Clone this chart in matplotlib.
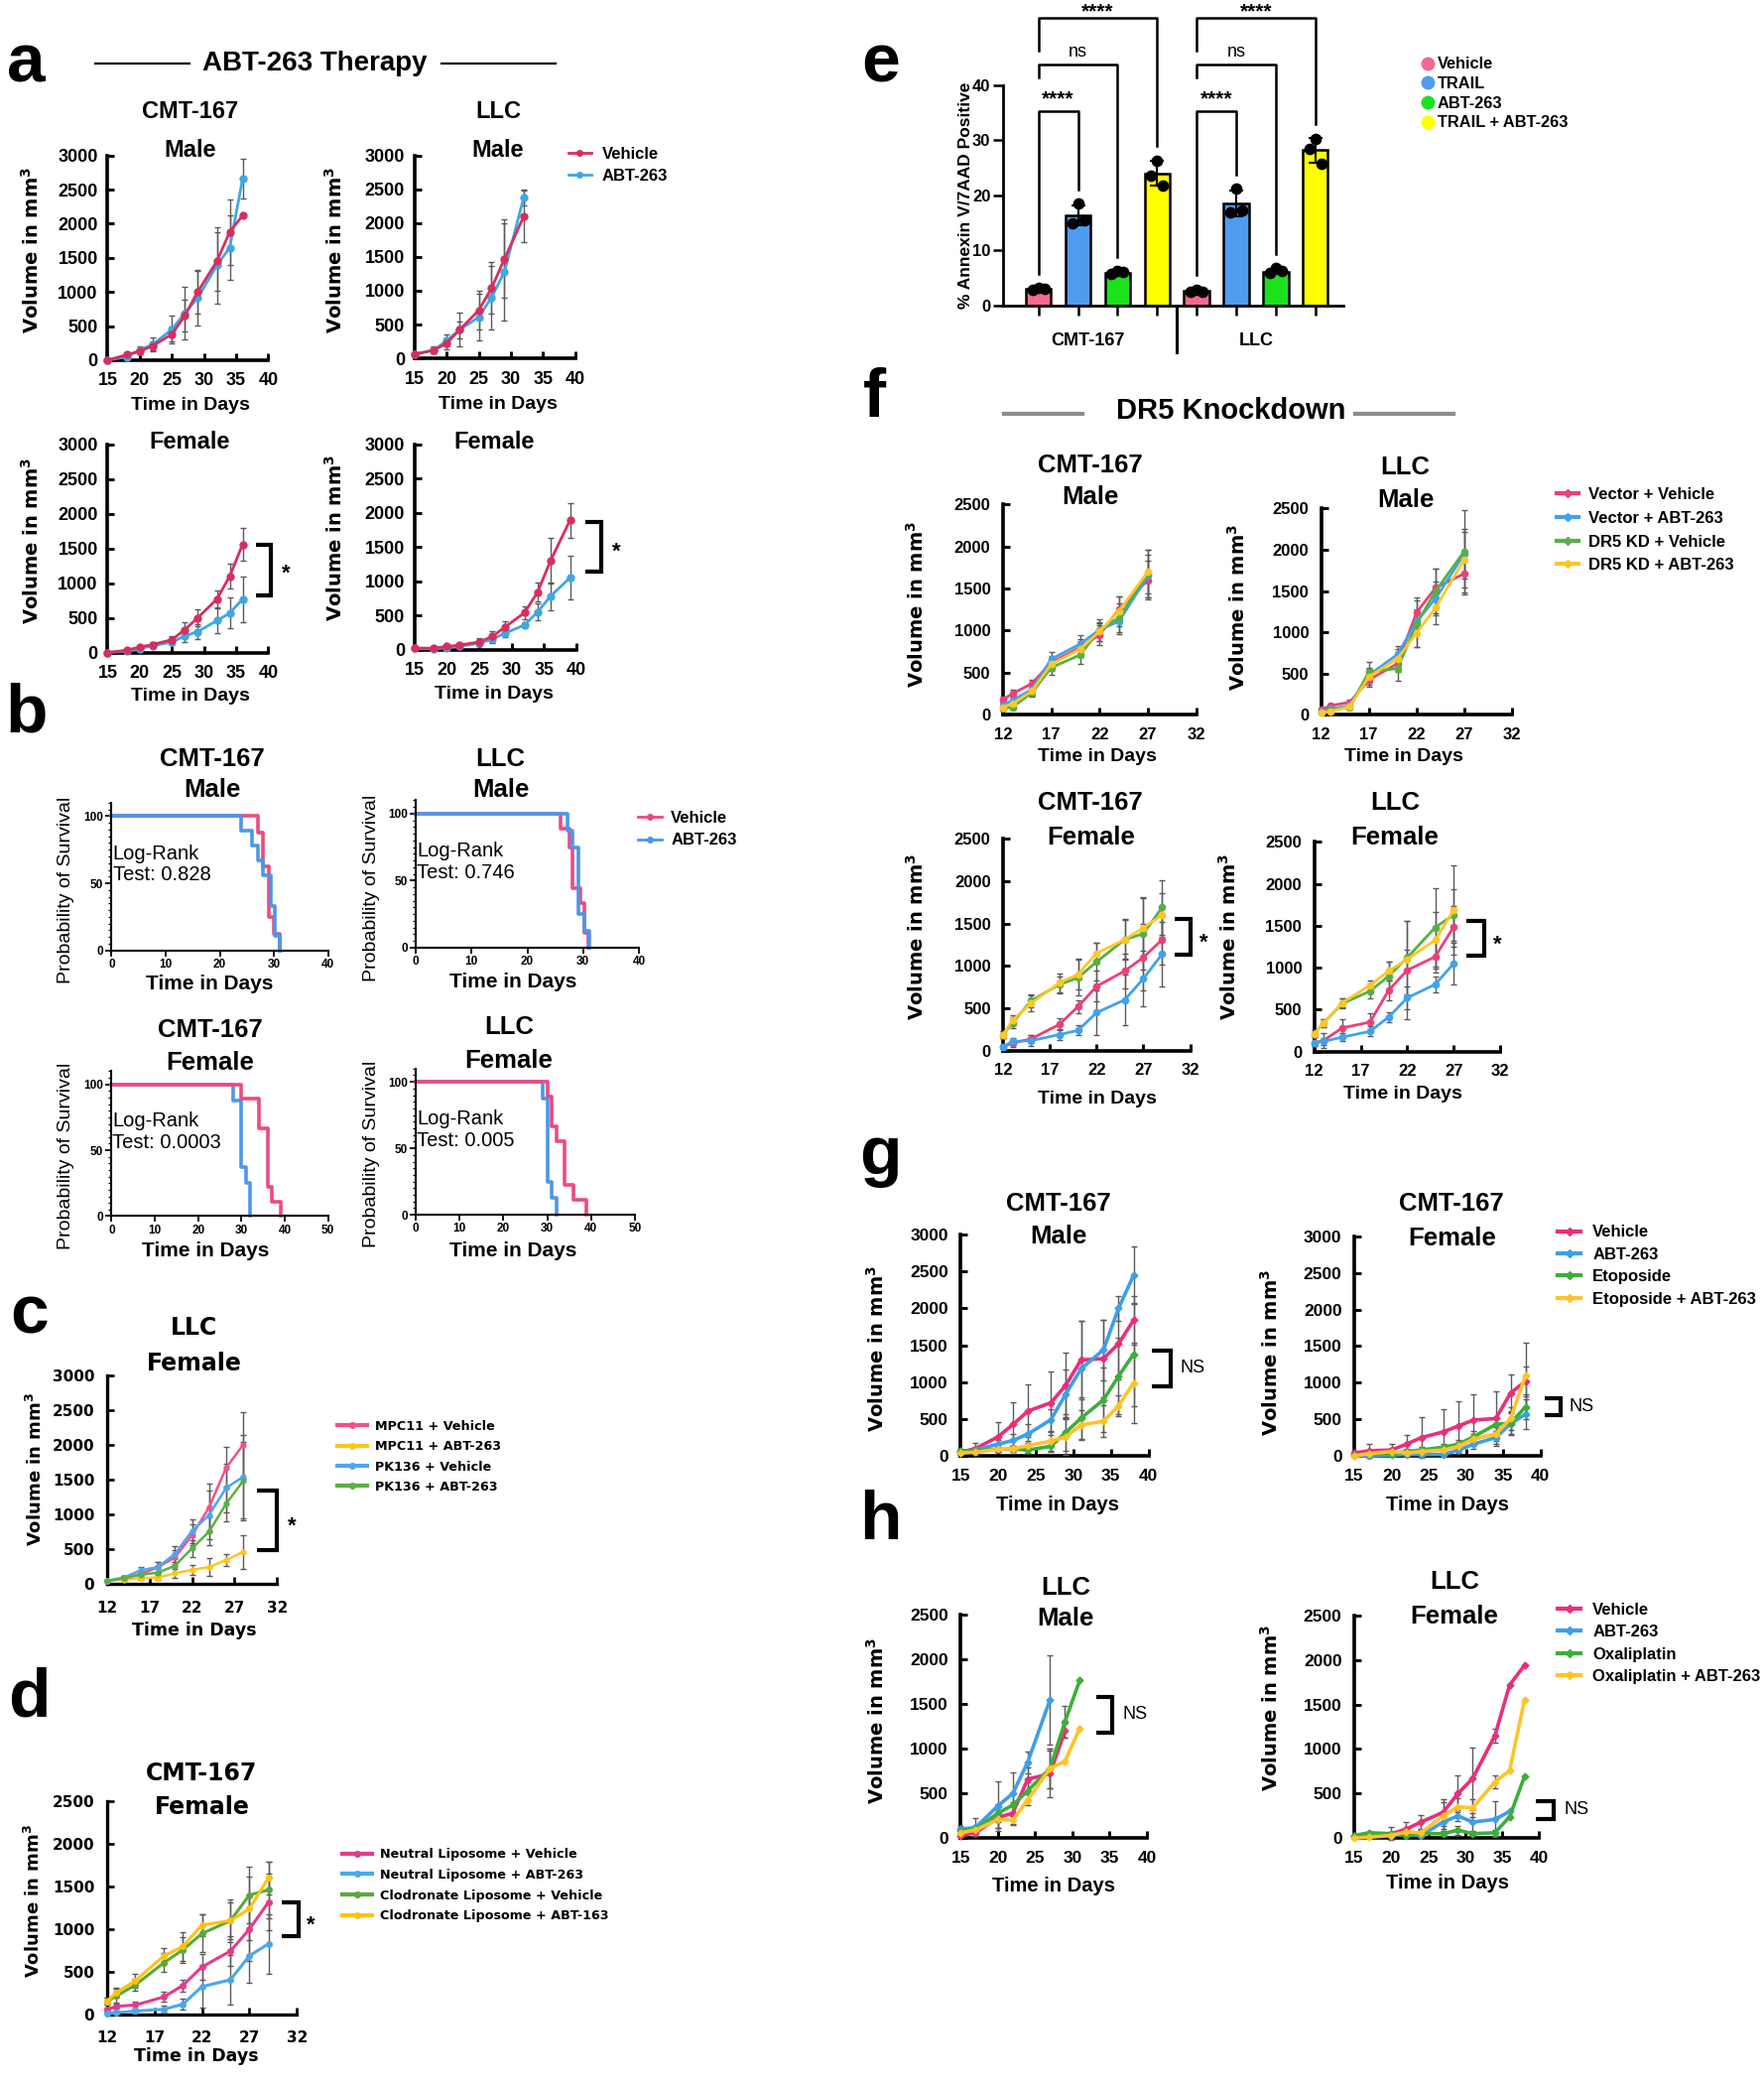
import matplotlib
matplotlib.use('Agg')
import matplotlib.pyplot as plt
from matplotlib.lines import Line2D
from matplotlib.ticker import MultipleLocator
from matplotlib.font_manager import FontProperties

W, H = 1328.0, 1568.0      # layout units (reference shown shrunk)
S = 1778.0 / W

ARIAL = ['Liberation Sans', 'DejaVu Sans']
VERDANA = ['DejaVu Sans']
plt.rcParams['font.family'] = ARIAL
plt.rcParams['mathtext.fontset'] = 'dejavusans'

# ---------------- data ----------------
# a: ABT-263 therapy, tumour volume (mm3)
A_DAYS_CMT = [15, 18, 20, 22, 25, 27, 29, 32, 34, 36]
A_CMT_M_VEH = [0, 80, 130, 210, 380, 650, 1000, 1450, 1880, 2120]
A_CMT_M_VEH_ERR = [0, 30, 40, 70, 110, 230, 320, 430, 480, 0]
A_CMT_M_ABT = [0, 50, 150, 230, 450, 690, 910, 1390, 1650, 2660]
A_CMT_M_ABT_ERR = [0, 30, 50, 100, 200, 380, 400, 560, 470, 290]

A_DAYS_LLC_M = [15, 18, 20, 22, 25, 27, 29, 32]
A_LLC_M_VEH = [60, 120, 220, 420, 710, 1040, 1470, 2100]
A_LLC_M_VEH_ERR = [20, 40, 80, 250, 290, 380, 580, 380]
A_LLC_M_ABT = [60, 120, 260, 420, 610, 900, 1280, 2380]
A_LLC_M_ABT_ERR = [20, 50, 90, 120, 340, 470, 720, 120]

A_CMT_F_VEH = [0, 35, 80, 115, 185, 330, 500, 770, 1100, 1560]
A_CMT_F_VEH_ERR = [0, 10, 20, 30, 50, 110, 120, 130, 180, 240]
A_CMT_F_ABT = [0, 20, 55, 100, 150, 240, 300, 460, 570, 770]
A_CMT_F_ABT_ERR = [0, 10, 20, 30, 40, 90, 110, 185, 225, 330]

A_DAYS_LLC_F = [15, 18, 20, 22, 25, 27, 29, 32, 34, 36, 39]
A_LLC_F_VEH = [20, 20, 45, 65, 110, 190, 330, 540, 840, 1300, 1890]
A_LLC_F_VEH_ERR = [10, 10, 15, 25, 60, 80, 90, 90, 140, 330, 250]
A_LLC_F_ABT = [15, 10, 25, 50, 90, 150, 240, 360, 550, 780, 1050]
A_LLC_F_ABT_ERR = [5, 10, 15, 20, 40, 50, 60, 40, 120, 200, 315]

# b: Kaplan-Meier steps (day, % survival)
B_CMT_M_VEH_T = [0, 27, 28, 29, 30, 31]
B_CMT_M_VEH_S = [100, 87.5, 62.5, 25, 12.5, 0]
B_CMT_M_ABT_T = [0, 24, 26, 27, 28, 29.5, 30.2, 31]
B_CMT_M_ABT_S = [100, 88.9, 77.8, 66.7, 55.6, 33.3, 11.1, 0]
B_LLC_M_VEH_T = [0, 26, 27.6, 28, 29.5, 30.3, 31]
B_LLC_M_VEH_S = [100, 88.9, 75, 44.4, 33.3, 11.1, 0]
B_LLC_M_ABT_T = [0, 27.2, 28.1, 29.1, 30.2, 31.1]
B_LLC_M_ABT_S = [100, 87.5, 75, 25, 12.5, 0]
B_CMT_F_VEH_T = [0, 30, 34, 36, 37, 39]
B_CMT_F_VEH_S = [100, 88.9, 66.7, 22.2, 11.1, 0]
B_CMT_F_ABT_T = [0, 28, 30, 31, 32]
B_CMT_F_ABT_S = [100, 87.5, 37.5, 25, 0]
B_LLC_F_VEH_T = [0, 30, 31, 32.2, 34, 36, 39]
B_LLC_F_VEH_S = [100, 88.9, 66.7, 55.6, 22.2, 11.1, 0]
B_LLC_F_ABT_T = [0, 29, 30, 31, 32.2]
B_LLC_F_ABT_S = [100, 87.5, 25, 12.5, 0]
B_PVALUES = ['0.828', '0.746', '0.0003', '0.005']

# c: LLC female, MPC11 / PK136
C_DAYS = [12, 14, 16, 18, 20, 22, 24, 26, 28]
C_LABELS = ['MPC11 + Vehicle', 'MPC11 + ABT-263', 'PK136 + Vehicle', 'PK136 + ABT-263']
C_VALUES = [[40, 80, 140, 240, 380, 700, 1100, 1670, 2000],
            [40, 60, 80, 90, 150, 200, 240, 340, 460],
            [40, 90, 195, 240, 430, 760, 990, 1380, 1540],
            [40, 80, 130, 160, 260, 510, 750, 1150, 1480]]
C_ERRORS = [[20, 30, 50, 80, 100, 150, 350, 300, 480],
            [10, 20, 30, 40, 60, 70, 130, 90, 240],
            [20, 30, 40, 80, 110, 170, 350, 350, 600],
            [20, 30, 40, 60, 100, 120, 200, 250, 560]]

# d: CMT-167 female, liposomes
D_DAYS = [12, 13, 15, 18, 20, 22, 25, 27, 29]
D_LABELS = ['Neutral Liposome + Vehicle', 'Neutral Liposome + ABT-263',
            'Clodronate Liposome + Vehicle', 'Clodronate Liposome + ABT-163']
D_VALUES = [[60, 100, 115, 210, 345, 560, 745, 1000, 1315],
            [20, 25, 45, 65, 125, 330, 410, 690, 830],
            [160, 220, 350, 610, 760, 950, 1100, 1400, 1460],
            [160, 260, 400, 690, 800, 1050, 1100, 1240, 1600]]
D_ERRORS = [[20, 30, 40, 60, 70, 150, 170, 370, 330],
            [10, 20, 30, 40, 60, 250, 290, 310, 350],
            [40, 80, 70, 110, 150, 220, 220, 330, 330],
            [40, 60, 80, 90, 170, 130, 250, 370, 190]]

# e: Annexin V / 7AAD positive (%)
E_GROUPS = ['CMT-167', 'LLC']
E_TREATMENTS = ['Vehicle', 'TRAIL', 'ABT-263', 'TRAIL + ABT-263']
E_MEANS = [3.0, 16.3, 6.0, 24.0, 2.7, 18.5, 6.2, 28.2]
E_SD = [0.3, 1.8, 0.3, 2.2, 0.2, 2.3, 0.5, 2.3]
E_DOTS = [[2.8, 3.2, 3.0], [15.0, 18.5, 15.5], [5.8, 6.3, 6.1], [23.5, 26.3, 21.8],
          [2.5, 2.9, 2.6], [17.0, 21.2, 17.2], [5.9, 6.8, 6.3], [28.5, 30.3, 25.8]]

# f: DR5 knockdown
F_LABELS = ['Vector + Vehicle', 'Vector + ABT-263', 'DR5 KD + Vehicle', 'DR5 KD + ABT-263']
F_DAYS_M = [12, 13, 15, 17, 20, 22, 24, 27]
F_CMT_M = [[180, 250, 370, 620, 800, 950, 1250, 1600],
           [110, 170, 300, 660, 840, 1010, 1110, 1650],
           [70, 90, 260, 560, 710, 1010, 1150, 1680],
           [90, 130, 280, 600, 780, 990, 1230, 1700]]
F_CMT_M_ERR = [[40, 50, 50, 80, 100, 120, 160, 230],
               [30, 40, 60, 90, 110, 80, 150, 250],
               [20, 30, 50, 90, 110, 130, 170, 280],
               [30, 40, 50, 80, 90, 110, 180, 260]]
F_LLC_M = [[60, 110, 150, 420, 620, 1240, 1540, 1710],
           [40, 70, 110, 480, 730, 1130, 1410, 1950],
           [30, 60, 90, 520, 560, 1100, 1500, 1980],
           [20, 40, 100, 460, 680, 990, 1300, 1880]]
F_LLC_M_ERR = [[20, 30, 30, 80, 100, 180, 230, 250],
               [20, 30, 30, 90, 100, 150, 200, 300],
               [20, 20, 30, 120, 150, 280, 270, 500],
               [10, 20, 30, 100, 110, 170, 200, 340]]
F_DAYS_CMT_F = [12, 13, 15, 18, 20, 22, 25, 27, 29]
F_CMT_F = [[50, 90, 140, 310, 520, 760, 940, 1100, 1310],
           [50, 110, 120, 190, 240, 450, 600, 850, 1140],
           [190, 330, 590, 780, 860, 1050, 1310, 1380, 1690],
           [190, 360, 560, 800, 900, 1150, 1310, 1450, 1600]]
F_CMT_F_ERR = [[20, 40, 40, 70, 80, 180, 200, 390, 300],
               [20, 40, 60, 60, 60, 260, 300, 330, 380],
               [40, 60, 80, 100, 210, 220, 240, 420, 320],
               [40, 60, 90, 110, 180, 120, 230, 360, 260]]
F_DAYS_LLC_F = [12, 13, 15, 18, 20, 22, 25, 27]
F_LLC_F = [[100, 130, 280, 350, 730, 970, 1130, 1490],
           [100, 120, 170, 240, 410, 640, 800, 1050],
           [210, 340, 570, 720, 900, 1120, 1480, 1630],
           [210, 340, 580, 790, 960, 1100, 1330, 1690]]
F_LLC_F_ERR = [[30, 90, 110, 110, 120, 590, 190, 240],
               [30, 40, 50, 60, 60, 140, 90, 250],
               [40, 50, 60, 90, 170, 440, 470, 310],
               [40, 50, 50, 60, 110, 120, 340, 530]]

# g: etoposide
G_LABELS = ['Vehicle', 'ABT-263', 'Etoposide', 'Etoposide + ABT-263']
G_DAYS = [15, 17, 20, 22, 24, 27, 29, 31, 34, 36, 38]
G_MALE = [[50, 100, 260, 430, 610, 720, 960, 1300, 1320, 1520, 1840],
          [50, 80, 160, 210, 300, 490, 840, 1180, 1440, 2000, 2450],
          [70, 70, 90, 90, 80, 130, 320, 510, 760, 1080, 1380],
          [40, 50, 90, 100, 140, 200, 260, 420, 470, 680, 990]]
G_MALE_ERR = [[30, 80, 200, 300, 360, 430, 440, 530, 520, 480, 330],
              [30, 40, 60, 90, 130, 150, 330, 650, 410, 170, 390],
              [20, 20, 30, 30, 40, 80, 250, 280, 440, 520, 700],
              [20, 20, 30, 40, 60, 130, 240, 200, 220, 140, 540]]
G_FEMALE = [[40, 70, 80, 160, 250, 330, 410, 490, 510, 860, 1020],
            [0, 0, 10, 20, 20, 20, 80, 160, 250, 440, 570],
            [10, 30, 30, 60, 80, 120, 160, 260, 430, 450, 670],
            [0, 30, 60, 40, 60, 80, 130, 230, 300, 510, 1100]]
G_FEMALE_ERR = [[30, 100, 90, 120, 280, 310, 340, 350, 370, 250, 200],
                [10, 10, 10, 10, 10, 10, 40, 60, 90, 150, 200],
                [10, 20, 20, 30, 40, 50, 60, 80, 100, 150, 170],
                [10, 20, 30, 30, 40, 40, 60, 70, 100, 160, 450]]

# h: oxaliplatin
H_LABELS = ['Vehicle', 'ABT-263', 'Oxaliplatin', 'Oxaliplatin + ABT-263']
H_DAYS_M = [15, 17, 20, 22, 24, 27, 29, 31]
H_MALE = [[30, 60, 230, 280, 660, 720, 1200],
          [100, 120, 360, 500, 850, 1550],
          [80, 100, 280, 370, 530, 780, 1300, 1770],
          [60, 90, 210, 200, 430, 780, 860, 1230]]
H_MALE_ERR = [[20, 40, 120, 120, 130, 260, 80],
              [40, 100, 280, 240, 120, 500],
              [30, 40, 100, 120, 100, 220, 180, 0],
              [30, 30, 100, 50, 60, 220, 0, 0]]
H_DAYS_F = [15, 17, 20, 22, 24, 27, 29, 31, 34, 36, 38]
H_FEMALE = [[20, 30, 50, 100, 180, 290, 500, 670, 1150, 1720, 1940],
            [20, 20, 40, 40, 30, 180, 250, 180, 210, 300],
            [30, 60, 50, 30, 50, 50, 90, 50, 60, 240, 690],
            [0, 10, 30, 70, 60, 250, 350, 340, 630, 760, 1550]]
H_FEMALE_ERR = [[10, 20, 70, 80, 80, 150, 210, 350, 80, 0, 0],
                [10, 10, 20, 30, 20, 100, 60, 100, 200, 0],
                [10, 10, 20, 20, 20, 20, 50, 20, 30, 0, 0],
                [10, 10, 20, 30, 30, 150, 100, 100, 70, 0, 0]]

# colours
A_COLORS = ['#D72E5E', '#3FA8E0']
B_COLORS = ['#EC4A80', '#4B97E8']
C_COLORS = ['#F2508C', '#FFC61A', '#4DA6F0', '#5CAF45']
D_COLORS = ['#E63A8A', '#4AA8EA', '#5BA83C', '#FFC20E']
E_COLORS = ['#F5688F', '#4E9CF0', '#1CE21C', '#FFFF00']
F_COLORS = ['#EC3F78', '#3FA2EE', '#55B045', '#FFC629']
GH_COLORS = ['#EA2E7A', '#3D9FE8', '#3DAE3A', '#FFC32A']
ERR_COLOR = '#5a5a5a'

fig = plt.figure(figsize=(17.78, 21.0), dpi=100)


def fx(x):
    return x / W


def fy(y):
    return 1 - y / H


def fp(size, family=ARIAL, weight='bold'):
    return FontProperties(family=family, size=size, weight=weight)


def axes_at(x0, x1, y0, y1):
    # x0/x1 left/right edge, y0 baseline (zero), y1 top, in layout units
    ax = fig.add_axes([fx(x0), fy(y0), (x1 - x0) / W, (y0 - y1) / H])
    ax.patch.set_alpha(0)
    return ax


def label(x, y, s, size, weight='bold', family=ARIAL, rot=0, color='black'):
    fig.text(fx(x), fy(y), s, fontsize=size, fontweight=weight, family=family,
             ha='center', va='center', rotation=rot, color=color)


def titles(x, y1, t1, y2, t2, size, family=ARIAL):
    if t1:
        label(x, y1, t1, size, family=family)
    label(x, y2, t2, size, family=family)


def growth_axes(box, xlim, xticks, ylim, ystep, tsize, tfam=ARIAL, sw=2.6, xpad=8, ypad=8):
    ax = axes_at(*box)
    ax.set_xlim(*xlim)
    ax.set_ylim(*ylim)
    ax.set_xticks(xticks)
    ax.set_yticks(range(ylim[0], ylim[1] + 1, ystep))
    for s in ['top', 'right']:
        ax.spines[s].set_visible(False)
    for s in ['left', 'bottom']:
        ax.spines[s].set_linewidth(sw)
    ax.tick_params(direction='in', length=5, width=sw * 0.8)
    ax.tick_params(axis='x', pad=xpad)
    ax.tick_params(axis='y', pad=ypad)
    for t in ax.get_xticklabels() + ax.get_yticklabels():
        t.set_fontproperties(fp(tsize, tfam))
    return ax


def series(ax, days, vals, errs, color, lw=2.0, ms=5, marker='o'):
    n = len(vals)
    ax.errorbar(days[:n], vals, yerr=errs, color=color, lw=lw, marker=marker, ms=ms,
                mec=color, ecolor=ERR_COLOR, elinewidth=1, capsize=2, capthick=1,
                clip_on=False, zorder=3)


def legend_at(ax, colors, labels, x, y, gap, size, family=ARIAL, weight='bold',
              hl=17, pad=8, lw=2.5, ms=4, marker='o', line=True):
    em = size * 100 / 72.0
    row = (1.07 if family == VERDANA else 0.9) * em
    top = y - 0.585 * em / S + (2 if family == VERDANA else 3)
    handles = [Line2D([], [], color=c, lw=lw if line else 0, marker=marker, ms=ms,
                      mfc=c, mec=c, ls='-' if line else 'none') for c in colors]
    ax.legend(handles, labels, loc='upper left',
              bbox_to_anchor=(fx(x), fy(top)), bbox_transform=fig.transFigure,
              frameon=False, borderpad=0, borderaxespad=0,
              handlelength=hl * S / em, handletextpad=pad * S / em,
              labelspacing=(gap * S - row) / em,
              prop=fp(size, family, weight))


def bracket(ax, x0, x1, ytop, ybot, text, tx, ty, size=16, weight='bold', lw=3):
    ax.plot([x0, x1, x1, x0], [ytop, ytop, ybot, ybot], color='black', lw=lw,
            clip_on=False, solid_joinstyle='miter', solid_capstyle='butt')
    ax.text(tx, ty, text, ha='center', va='center', fontsize=size, fontweight=weight)


VOL = r'Volume in mm$^{\mathbf{3}}$'

# ---------------- panel letters and headers ----------------
for letter, (lx, ly) in zip('abcdefgh', [(20, 48), (20, 537), (22, 990), (22, 1278),
                                          (663, 48), (658, 300), (663, 870), (663, 1145)]):
    label(lx, ly, letter, 50)

label(237, 48, 'ABT-263 Therapy', 20)
for xs in [(72, 143), (332, 418)]:
    fig.add_artist(Line2D([fx(xs[0]), fx(xs[1])], [fy(48), fy(48)], color='black', lw=1.6))
label(927, 309, 'DR5 Knockdown', 21)
for xs in [(756, 815), (1020, 1094)]:
    fig.add_artist(Line2D([fx(xs[0]), fx(xs[1])], [fy(311), fy(311)], color='#8c8c8c', lw=3))

# ---------------- a ----------------
a_specs = [
    ((81, 202, 271, 117), A_DAYS_CMT, A_CMT_M_VEH, A_CMT_M_VEH_ERR, A_CMT_M_ABT, A_CMT_M_ABT_ERR),
    ((312, 433, 269.6, 117), A_DAYS_LLC_M, A_LLC_M_VEH, A_LLC_M_VEH_ERR, A_LLC_M_ABT, A_LLC_M_ABT_ERR),
    ((81, 202, 491, 334.4), A_DAYS_CMT, A_CMT_F_VEH, A_CMT_F_VEH_ERR, A_CMT_F_ABT, A_CMT_F_ABT_ERR),
    ((312, 434, 488.7, 334.4), A_DAYS_LLC_F, A_LLC_F_VEH, A_LLC_F_VEH_ERR, A_LLC_F_ABT, A_LLC_F_ABT_ERR),
]
a_axes = []
for box, days, veh, veh_e, abt, abt_e in a_specs:
    ax = growth_axes(box, (15, 40), [15, 20, 25, 30, 35, 40], (0, 3000), 500, 13, xpad=9, ypad=7)
    series(ax, days, abt, abt_e, A_COLORS[1])
    series(ax, days, veh, veh_e, A_COLORS[0])
    a_axes.append(ax)
legend_at(a_axes[1], A_COLORS, ['Vehicle', 'ABT-263'], 428, 115, 16, 12, hl=17, pad=8, lw=2, ms=4)
bracket(a_axes[2], 38.1, 40.4, 1560, 820, '*', 42.7, 1130)
bracket(a_axes[3], 41.3, 43.8, 1867, 1137, '*', 46.1, 1420)

titles(143, 84, 'CMT-167', 113, 'Male', 17)
titles(375, 84, 'LLC', 113, 'Male', 17)
titles(143, None, None, 333, 'Female', 17)
titles(372, None, None, 333, 'Female', 17)
for x, y in [(143, 305), (375, 304), (143, 524), (372, 522)]:
    label(x, y, 'Time in Days', 14)
for x, y in [(24, 188), (252, 188), (24, 407), (252, 405)]:
    label(x, y, VOL, 14, family=VERDANA, rot=90)

# ---------------- b ----------------
b_specs = [
    ((84, 247, 715, 604), 40, B_CMT_M_VEH_T, B_CMT_M_VEH_S, B_CMT_M_ABT_T, B_CMT_M_ABT_S),
    ((313, 481, 713, 602), 40, B_LLC_M_VEH_T, B_LLC_M_VEH_S, B_LLC_M_ABT_T, B_LLC_M_ABT_S),
    ((84, 247, 915, 806), 50, B_CMT_F_VEH_T, B_CMT_F_VEH_S, B_CMT_F_ABT_T, B_CMT_F_ABT_S),
    ((313, 478, 914, 804), 50, B_LLC_F_VEH_T, B_LLC_F_VEH_S, B_LLC_F_ABT_T, B_LLC_F_ABT_S),
]
b_axes = []
for (box, xmax, vt, vs, at, as_), pval in zip(b_specs, B_PVALUES):
    ax = axes_at(*box)
    ax.set_xlim(0, xmax)
    ax.set_ylim(0, 110)
    ax.set_xticks(range(0, xmax + 1, 10))
    ax.set_yticks([0, 50, 100])
    ax.yaxis.set_minor_locator(MultipleLocator(5))
    for s in ['top', 'right']:
        ax.spines[s].set_visible(False)
    for s in ['left', 'bottom']:
        ax.spines[s].set_linewidth(1.5)
    ax.tick_params(direction='out', length=4, width=1.3, pad=2)
    ax.tick_params(which='minor', length=2.5, width=0.9)
    for t in ax.get_xticklabels() + ax.get_yticklabels():
        t.set_fontproperties(fp(8.5))
    if xmax == 40:
        ax.step(vt, vs, where='post', color=B_COLORS[0], lw=2.6, clip_on=False)
        ax.step(at, as_, where='post', color=B_COLORS[1], lw=2.6, clip_on=False)
    else:
        ax.step(at, as_, where='post', color=B_COLORS[1], lw=2.6, clip_on=False)
        ax.step(vt, vs, where='post', color=B_COLORS[0], lw=2.6, clip_on=False)
    ax.text(0.2, 64, 'Log-Rank\nTest: ' + pval, ha='left', va='center', fontsize=14.5,
            linespacing=1.15)
    b_axes.append(ax)
legend_at(b_axes[1], B_COLORS, ['Vehicle', 'ABT-263'], 480, 614, 17, 12,
          hl=18, pad=7, lw=2, ms=4)

titles(160, 571, 'CMT-167', 594, 'Male', 18.5)
titles(377, 571, 'LLC', 594, 'Male', 18.5)
titles(158, 775, 'CMT-167', 800, 'Female', 18.5)
titles(383, 773, 'LLC', 798, 'Female', 18.5)
for x, y in [(158, 740), (386, 739), (155, 941), (386, 941)]:
    label(x, y, 'Time in Days', 15)
for x, y in [(50, 670), (280, 668), (50, 870), (280, 868)]:
    label(x, y, 'Probability of Survival', 14, weight='normal', rot=90)

# ---------------- c ----------------
ax_c = growth_axes((80.5, 208.6, 1191.6, 1035), (12, 32), [12, 17, 22, 27, 32], (0, 3000), 500,
                   11, tfam=VERDANA, sw=2.4, xpad=12, ypad=9)
for vals, errs, col in zip(C_VALUES, C_ERRORS, C_COLORS):
    series(ax_c, C_DAYS, vals, errs, col, lw=1.8, ms=3.5)
legend_at(ax_c, C_COLORS, C_LABELS, 254, 1072, 15.7, 9.2, family=VERDANA, hl=22, pad=6, lw=3, ms=4)
bracket(ax_c, 29.6, 32, 1340, 480, '*', 33.8, 830)
titles(146, 999, 'LLC', 1026, 'Female', 17, family=VERDANA)
label(146, 1227, 'Time in Days', 12.5, family=VERDANA)
label(27, 1105, VOL, 13, family=VERDANA, rot=90)

# ---------------- d ----------------
ax_d = growth_axes((80.5, 223.5, 1516, 1355), (12, 32), [12, 17, 22, 27, 32], (0, 2500), 500,
                   11, tfam=VERDANA, sw=2.4, xpad=11, ypad=9)
for vals, errs, col in zip(D_VALUES, D_ERRORS, D_COLORS):
    series(ax_d, D_DAYS, vals, errs, col, lw=2.2, ms=4)
legend_at(ax_d, D_COLORS, D_LABELS, 258, 1394, 16, 9.2, family=VERDANA, hl=22, pad=6, lw=3, ms=4)
bracket(ax_d, 30.4, 32.2, 1316, 922, '*', 33.5, 1040)
titles(152, 1334, 'CMT-167', 1360, 'Female', 17, family=VERDANA)
label(148, 1547, 'Time in Days', 12.5, family=VERDANA)
label(25, 1430, VOL, 13, family=VERDANA, rot=90)

# ---------------- e ----------------
ax_e = axes_at(755, 1011, 230, 64)
pos = list(range(len(E_MEANS)))
bar_cols = E_COLORS * len(E_GROUPS)
ax_e.bar(pos, E_MEANS, width=0.64, color=bar_cols, edgecolor='black', linewidth=1.8, zorder=2)
ax_e.errorbar(pos, E_MEANS, yerr=E_SD, fmt='none', ecolor='black', elinewidth=1.5,
              capsize=5, capthick=1.5, zorder=3)
for p, dots in zip(pos, E_DOTS):
    ax_e.scatter([p - 0.15, p, p + 0.15], dots, s=55, color='black', zorder=4, clip_on=False)
ax_e.set_xlim(-0.9, 7.7)
ax_e.set_ylim(0, 40)
ax_e.set_yticks([0, 10, 20, 30, 40])
ax_e.set_xticks(pos)
ax_e.set_xticklabels([])
for s in ['top', 'right']:
    ax_e.spines[s].set_visible(False)
for s in ['left', 'bottom']:
    ax_e.spines[s].set_linewidth(2)
ax_e.tick_params(direction='out', length=7, width=1.8, pad=2)
for t in ax_e.get_yticklabels():
    t.set_fontproperties(fp(12))
ax_e.plot([3.5, 3.5], [0, -8.5], color='black', lw=2.2, clip_on=False)
for name, cx in zip(E_GROUPS, [1.25, 5.5]):
    ax_e.text(cx, -6.3, name, ha='center', va='center', fontsize=13, fontweight='bold')
for g in range(len(E_GROUPS)):
    b0 = 4 * g
    tops = [max(d) + 2.6 for d in E_DOTS[b0:b0 + 4]]
    ax_e.plot([b0, b0, b0 + 1, b0 + 1], [tops[0], 35.2, 35.2, tops[1]], color='black', lw=1.8,
              clip_on=False)
    ax_e.text(b0 + 0.5, 37.4, '****', ha='center', va='center', fontsize=15, fontweight='bold')
    ax_e.plot([b0, b0, b0 + 2, b0 + 2], [41.3, 43.7, 43.7, tops[2]], color='black', lw=1.8,
              clip_on=False)
    ax_e.text(b0 + 1, 46.0, 'ns', ha='center', va='center', fontsize=13)
    ax_e.plot([b0, b0, b0 + 3, b0 + 3], [46.2, 52.2, 52.2, tops[3]], color='black', lw=1.8,
              clip_on=False)
    ax_e.text(b0 + 1.5, 53.3, '****', ha='center', va='center', fontsize=15, fontweight='bold')
legend_at(ax_e, E_COLORS, E_TREATMENTS, 1071, 47, 14.5, 11.8, hl=8, pad=3, ms=9, line=False)
label(727, 147, '% Annexin V/7AAD Positive', 12.5, rot=90)

# ---------------- f ----------------
f_specs = [
    ((755, 900.5, 537.7, 379.6), F_DAYS_M, F_CMT_M, F_CMT_M_ERR),
    ((994.6, 1138.3, 537.7, 382.6), F_DAYS_M, F_LLC_M, F_LLC_M_ERR),
    ((755.2, 896, 790.6, 631), F_DAYS_CMT_F, F_CMT_F, F_CMT_F_ERR),
    ((989.4, 1129.5, 791.1, 633.5), F_DAYS_LLC_F, F_LLC_F, F_LLC_F_ERR),
]
f_axes = []
for box, days, vals, errs in f_specs:
    ax = growth_axes(box, (12, 32), [12, 17, 22, 27, 32], (0, 2500), 500, 12, xpad=9, ypad=9)
    for v, e, col in zip(vals, errs, F_COLORS):
        series(ax, days, v, e, col, lw=2, ms=4.5)
    f_axes.append(ax)
legend_at(f_axes[1], F_COLORS, F_LABELS, 1172, 371, 17.7, 12, hl=16, pad=8, lw=3, ms=4, marker='D')
bracket(f_axes[2], 30.3, 32, 1556, 1135, '*', 33.5, 1270)
bracket(f_axes[3], 28.4, 30.3, 1552, 1138, '*', 31.7, 1275)
titles(821, 350, 'CMT-167', 374, 'Male', 18.5)
titles(1058, 352, 'LLC', 376, 'Male', 18.5)
titles(821, 604, 'CMT-167', 630, 'Female', 18.5)
titles(1050, 604, 'LLC', 630, 'Female', 18.5)
for x, y in [(826, 569), (1057, 569), (826, 827), (1056, 823)]:
    label(x, y, 'Time in Days', 14)
for x, y in [(690, 455), (932, 457), (690, 705), (925, 705)]:
    label(x, y, VOL, 14, family=VERDANA, rot=90)

# ---------------- g / h ----------------
gh_specs = [
    ((723.2, 864.7, 1095.4, 929), (0, 3000), G_DAYS, G_MALE, G_MALE_ERR),
    ((1019.6, 1159.7, 1095.4, 930.3), (0, 3000), G_DAYS, G_FEMALE, G_FEMALE_ERR),
    ((723.2, 863.4, 1383, 1215), (0, 2500), H_DAYS_M, H_MALE, H_MALE_ERR),
    ((1019.6, 1158.8, 1383, 1215.5), (0, 2500), H_DAYS_F, H_FEMALE, H_FEMALE_ERR),
]
gh_axes = []
for box, ylim, days, vals, errs in gh_specs:
    ax = growth_axes(box, (15, 40), [15, 20, 25, 30, 35, 40], ylim, 500, 12.5, xpad=9, ypad=9)
    for v, e, col in zip(vals, errs, GH_COLORS):
        series(ax, days, v, e, col, lw=2.6, ms=3.5, marker='D')
    gh_axes.append(ax)
legend_at(gh_axes[1], GH_COLORS, G_LABELS, 1173, 926, 16.7, 12, hl=17, pad=9, lw=3, ms=4, marker='D')
legend_at(gh_axes[3], GH_COLORS, H_LABELS, 1173, 1210, 16.7, 12, hl=17, pad=9, lw=3, ms=4, marker='D')
bracket(gh_axes[0], 40.5, 42.9, 1428, 943, 'NS', 45.8, 1190, size=13, weight='normal')
bracket(gh_axes[1], 40.6, 42.7, 783, 552, 'NS', 45.5, 666, size=13, weight='normal')
bracket(gh_axes[2], 33.2, 35.3, 1584, 1182, 'NS', 38.4, 1390, size=13, weight='normal')
bracket(gh_axes[3], 39.6, 42, 411, 210, 'NS', 45, 315, size=13, weight='normal')
titles(797, 906, 'CMT-167', 930, 'Male', 18.5)
titles(1093, 906, 'CMT-167', 932, 'Female', 18.5)
titles(802, 1195, 'LLC', 1218, 'Male', 18.5)
titles(1095, 1190, 'LLC', 1216, 'Female', 18.5)
for x, y in [(796, 1132), (1090, 1132), (793, 1419), (1090, 1417)]:
    label(x, y, 'Time in Days', 14.5)
for x, y in [(660, 1015), (957, 1018), (660, 1295), (957, 1285)]:
    label(x, y, VOL, 14, family=VERDANA, rot=90)

fig.savefig('out.png', dpi=100, facecolor='white')
